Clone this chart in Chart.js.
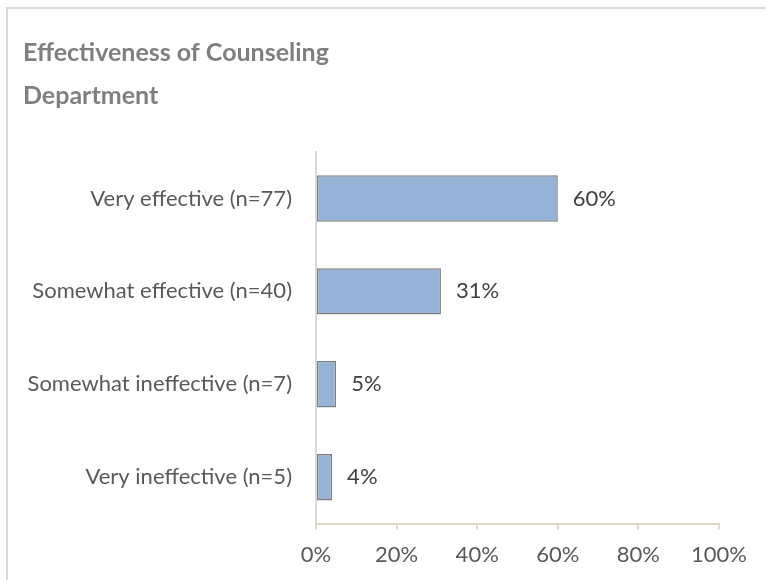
<!DOCTYPE html>
<html>
<head>
<meta charset="utf-8">
<script src="https://cdn.jsdelivr.net/npm/chart.js@4"></script>
<style>
  html, body { margin: 0; padding: 0; background: #fff; }
  #wrap { position: relative; width: 766px; height: 580px; overflow: hidden; }
  #frame {
    position: absolute; left: 6px; top: 7px; width: 800px; height: 640px;
    border-top: 2px solid #d9d9d9; border-left: 2px solid #d9d9d9;
    pointer-events: none;
  }
</style>
</head>
<body>
<div id="wrap">
  <canvas id="chart" width="766" height="580"></canvas>
  <div id="frame"></div>
</div>
<script>
// data
const categories = [
  "Very effective (n=77)",
  "Somewhat effective (n=40)",
  "Somewhat ineffective (n=7)",
  "Very ineffective (n=5)"
];
const percentages = [60, 31, 5, 4];
const titleLines = ["Effectiveness of Counseling", "Department"];

const FONT = "Lato, 'Open Sans', sans-serif";
const TEXT = "#595959";

// draws the "60%" labels next to each bar
const valueLabels = {
  id: "valueLabels",
  afterDatasetsDraw(chart) {
    const ctx = chart.ctx;
    const meta = chart.getDatasetMeta(0);
    ctx.save();
    ctx.font = "22px " + FONT;
    ctx.fillStyle = "#404040";
    ctx.textAlign = "left";
    ctx.textBaseline = "middle";
    meta.data.forEach((bar, i) => {
      ctx.fillText(percentages[i] + "%", bar.x + 15, bar.y);
    });
    ctx.restore();
  }
};

new Chart(document.getElementById("chart"), {
  type: "bar",
  data: {
    labels: categories,
    datasets: [{
      data: percentages,
      backgroundColor: "#95b3d7",
      borderColor: "#7f7f7f",
      borderWidth: 1.5,
      borderSkipped: false,
      categoryPercentage: 1,
      barPercentage: 0.5
    }]
  },
  options: {
    indexAxis: "y",
    responsive: false,
    animation: false,
    layout: { padding: { left: 23, right: 47, top: 10, bottom: 0 } },
    plugins: {
      legend: { display: false },
      tooltip: { enabled: false },
      title: {
        display: true,
        text: titleLines,
        align: "start",
        color: "#7f7f7f",
        font: { family: FONT, size: 25, weight: "bold", lineHeight: "42.5px" },
        padding: { top: 22, bottom: 35 }
      }
    },
    scales: {
      x: {
        min: 0,
        max: 100,
        ticks: {
          stepSize: 20,
          color: TEXT,
          padding: 12,
          font: { family: FONT, size: 22 },
          callback: (v) => v + "%"
        },
        grid: {
          drawOnChartArea: false,
          drawTicks: true,
          tickLength: 6,
          tickColor: "#ddd9c3",
          lineWidth: 2
        },
        border: { color: "#ddd9c3", width: 2 }
      },
      y: {
        ticks: {
          color: TEXT,
          padding: 24,
          font: { family: FONT, size: 22 }
        },
        grid: { display: false, drawTicks: false },
        border: { color: "#d9d9d9", width: 2 },
        afterFit(scale) { scale.width = 293; }
      }
    }
  },
  plugins: [valueLabels]
});
</script>
</body>
</html>
